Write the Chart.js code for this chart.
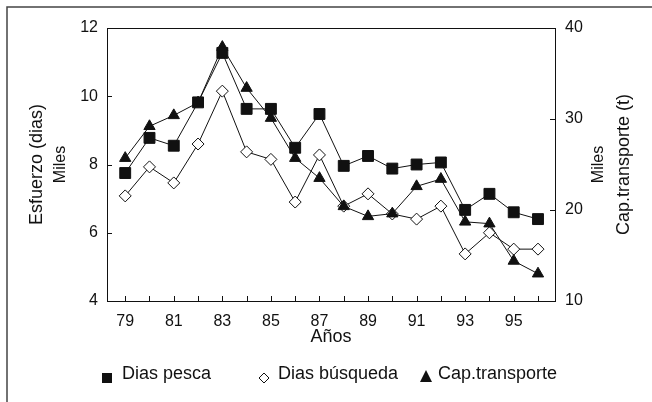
<!DOCTYPE html>
<html>
<head>
<meta charset="utf-8">
<script src="https://cdn.jsdelivr.net/npm/chart.js@4.4.1/dist/chart.umd.min.js"></script>
<style>
  html, body { margin: 0; padding: 0; background: #fff; }
  #wrap { width: 652px; height: 402px; }
</style>
</head>
<body>
<div id="wrap"><canvas id="chart" width="652" height="402"></canvas></div>
<script>
// Data (left axis: miles de días, right axis: miles de t)
const years = [79, 80, 81, 82, 83, 84, 85, 86, 87, 88, 89, 90, 91, 92, 93, 94, 95, 96];
const diasPesca = [7.75, 8.78, 8.55, 9.82, 11.27, 9.63, 9.63, 8.49, 9.48, 7.96, 8.25, 7.88, 8.0, 8.06, 6.67, 7.14, 6.6, 6.4];
const diasBusqueda = [7.08, 7.93, 7.46, 8.6, 10.15, 8.37, 8.15, 6.9, 8.28, 6.78, 7.14, 6.55, 6.4, 6.78, 5.38, 6.0, 5.52, 5.52];
const capTransporte = [25.7, 29.2, 30.4, 31.8, 37.9, 33.4, 30.1, 25.7, 23.5, 20.4, 19.3, 19.6, 22.6, 23.4, 18.7, 18.5, 14.4, 13.0];

const xLabels = [79, 81, 83, 85, 87, 89, 91, 93, 95];
const leftTicks = [4, 6, 8, 10, 12];
const rightTicks = [10, 20, 30, 40];
const seriesNames = ['Dias pesca', 'Dias búsqueda', 'Cap.transporte'];

const FONT = '"Liberation Sans", Arial, sans-serif';
const INK = '#111';

function toPoints(values) {
    return years.map((y, i) => ({ x: y, y: values[i] }));
}

// Frame, inside tick marks, axis titles and legend
const decorations = {
    id: 'decorations',
    beforeDraw(chart) {
        const ctx = chart.ctx;
        ctx.save();
        ctx.strokeStyle = '#444';
        ctx.lineWidth = 1.5;
        ctx.beginPath();
        ctx.moveTo(7, 402);
        ctx.lineTo(7, 7);
        ctx.lineTo(652, 7);
        ctx.stroke();
        ctx.restore();
    },
    afterDraw(chart) {
        const ctx = chart.ctx;
        const a = chart.chartArea;
        const sx = chart.scales.x;
        const sy = chart.scales.y;
        const sy1 = chart.scales.y1;
        ctx.save();
        ctx.strokeStyle = INK;
        ctx.lineWidth = 1;
        ctx.strokeRect(Math.round(a.left) + 0.5, Math.round(a.top) + 0.5,
            Math.round(a.right - a.left), Math.round(a.bottom - a.top));

        ctx.beginPath();
        years.forEach(y => {
            const px = Math.round(sx.getPixelForValue(y)) + 0.5;
            ctx.moveTo(px, a.bottom);
            ctx.lineTo(px, a.bottom - 5);
        });
        leftTicks.slice(1, -1).forEach(v => {
            const py = Math.round(sy.getPixelForValue(v)) + 0.5;
            ctx.moveTo(a.left, py);
            ctx.lineTo(a.left + 5, py);
        });
        rightTicks.slice(1, -1).forEach(v => {
            const py = Math.round(sy1.getPixelForValue(v)) + 0.5;
            ctx.moveTo(a.right, py);
            ctx.lineTo(a.right - 5, py);
        });
        ctx.stroke();

        // Axis titles
        const midY = (a.top + a.bottom) / 2;
        ctx.fillStyle = INK;
        ctx.textAlign = 'center';
        ctx.textBaseline = 'middle';
        const vText = (txt, x, size) => {
            ctx.save();
            ctx.translate(x, midY);
            ctx.rotate(-Math.PI / 2);
            ctx.font = size + 'px ' + FONT;
            ctx.fillText(txt, 0, 0);
            ctx.restore();
        };
        vText('Esfuerzo (dias)', 37, 18);
        vText('Miles', 61, 16);
        vText('Miles', 599, 16);
        vText('Cap.transporte (t)', 624, 18);

        ctx.font = '18px ' + FONT;
        ctx.fillText('Años', (a.left + a.right) / 2, 337);

        // Legend
        const ly = 379;
        ctx.textAlign = 'left';
        ctx.textBaseline = 'alphabetic';
        ctx.fillText(seriesNames[0], 122, ly);
        ctx.fillText(seriesNames[1], 278, ly);
        ctx.fillText(seriesNames[2], 438, ly);

        ctx.fillStyle = INK;
        ctx.fillRect(102, 373, 10, 10);

        ctx.beginPath();
        ctx.moveTo(264, 373);
        ctx.lineTo(269, 378);
        ctx.lineTo(264, 383);
        ctx.lineTo(259, 378);
        ctx.closePath();
        ctx.fillStyle = '#fff';
        ctx.fill();
        ctx.stroke();

        ctx.beginPath();
        ctx.moveTo(426, 370);
        ctx.lineTo(432, 382);
        ctx.lineTo(420, 382);
        ctx.closePath();
        ctx.fillStyle = INK;
        ctx.fill();
        ctx.restore();
    }
};

const commonLine = {
    borderColor: INK,
    borderWidth: 1,
    pointBorderColor: INK,
    pointBorderWidth: 1,
    tension: 0
};

new Chart(document.getElementById('chart'), {
    type: 'line',
    data: {
        datasets: [
            Object.assign({
                label: seriesNames[0],
                data: toPoints(diasPesca),
                yAxisID: 'y',
                order: 0,
                pointStyle: 'rect',
                pointRadius: 7.7,
                pointBackgroundColor: INK
            }, commonLine),
            Object.assign({
                label: seriesNames[1],
                data: toPoints(diasBusqueda),
                yAxisID: 'y',
                order: 2,
                pointStyle: 'rectRot',
                pointRadius: 6,
                pointBackgroundColor: '#fff'
            }, commonLine),
            Object.assign({
                label: seriesNames[2],
                data: toPoints(capTransporte),
                yAxisID: 'y1',
                order: 1,
                pointStyle: 'triangle',
                pointRadius: 6.5,
                pointBackgroundColor: INK
            }, commonLine)
        ]
    },
    options: {
        responsive: false,
        animation: false,
        layout: { padding: { top: 28, left: 0, right: 0, bottom: 0 } },
        plugins: {
            legend: { display: false },
            tooltip: { enabled: false }
        },
        scales: {
            x: {
                type: 'linear',
                min: 78.25,
                max: 96.7,
                grid: { display: false, drawTicks: false },
                border: { display: false },
                afterBuildTicks: scale => {
                    scale.ticks = years.map(v => ({ value: v }));
                },
                afterFit: scale => { scale.height = 101; },
                ticks: {
                    padding: 11,
                    maxRotation: 0,
                    autoSkip: false,
                    color: INK,
                    font: { family: FONT, size: 16 },
                    callback: v => xLabels.includes(v) ? String(v) : ''
                }
            },
            y: {
                position: 'left',
                min: 4,
                max: 12,
                grid: { display: false, drawTicks: false },
                border: { display: false },
                afterBuildTicks: scale => {
                    scale.ticks = leftTicks.map(v => ({ value: v }));
                },
                afterFit: scale => { scale.width = 107; },
                ticks: {
                    padding: 9,
                    color: INK,
                    font: { family: FONT, size: 16 }
                }
            },
            y1: {
                position: 'right',
                min: 10,
                max: 40,
                grid: { display: false, drawTicks: false },
                border: { display: false },
                afterBuildTicks: scale => {
                    scale.ticks = rightTicks.map(v => ({ value: v }));
                },
                afterFit: scale => { scale.width = 97; },
                ticks: {
                    padding: 10,
                    color: INK,
                    font: { family: FONT, size: 16 }
                }
            }
        }
    },
    plugins: [decorations]
});
</script>
</body>
</html>
